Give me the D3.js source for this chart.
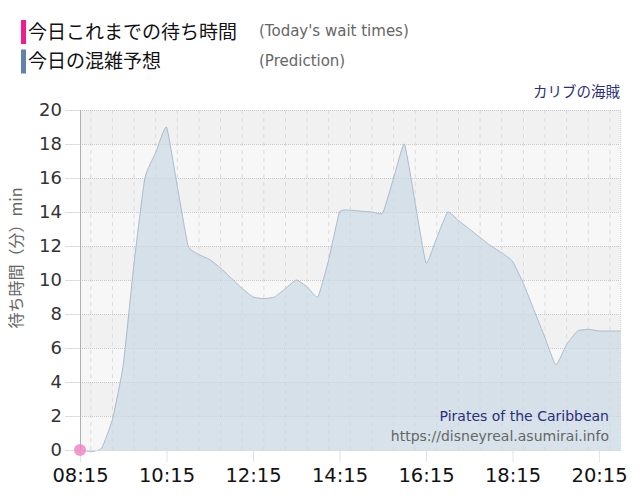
<!DOCTYPE html>
<html><head><meta charset="utf-8">
<script src="https://cdn.jsdelivr.net/npm/d3@7/dist/d3.min.js"></script>
<style>
html,body{margin:0;padding:0;background:#fff;}
svg{display:block;}
</style>
</head><body>
<svg id="c" width="640" height="500"></svg>
<script>
const times = ["08:15","08:30","08:45","09:00","09:15","09:30","09:45","10:00","10:15","10:30","10:45",
"11:00","11:15","11:30","11:45","12:00","12:15","12:30","12:45","13:00","13:15","13:30","13:45",
"14:00","14:15","14:30","14:45","15:00","15:15","15:30","15:45","16:00","16:15","16:30","16:45",
"17:00","17:15","17:30","17:45","18:00","18:15","18:30","18:45","19:00","19:15","19:30","19:45",
"20:00","20:15","20:30","20:45"];
const prediction = [0,-0.1,0.1,1.8,5,11,16,17.5,19,15.5,12,
11.5,11.2,10.7,10.1,9.5,9,8.9,9,9.5,10,9.6,9,
11.2,14,14.1,14.05,14,13.95,16,18,14.5,11,12.5,14,
13.5,13,12.5,12,11.6,11.1,9.8,8.2,6.6,5,6.2,7,
7.1,7,7,7];
const todayTimes = ["08:15"];
const todayValues = [0];
const xTickLabels = ["08:15","10:15","12:15","14:15","16:15","18:15","20:15"];
const yTicks = [0,2,4,6,8,10,12,14,16,18,20];
const legendItems = [
  {jp:"今日これまでの待ち時間", en:"(Today's wait times)", color:"#ee1c8c"},
  {jp:"今日の混雑予想", en:"(Prediction)", color:"#6282ad"}
];
const attractionJp = "カリブの海賊";
const attractionEn = "Pirates of the Caribbean";
const siteUrl = "https://disneyreal.asumirai.info";
const yTitle = "待ち時間（分）min";

const parse = d3.timeParse("%H:%M");
const svg = d3.select("#c");
const L = 80, R = 620.7, T = 110, B = 450;
const x = d3.scaleTime().domain([parse("08:15"), parse("20:45")]).range([L, R]);
const y = d3.scaleLinear().domain([0,20]).range([B, T]);

// background bands
const bands = d3.range(0,20,2);
svg.append("g").selectAll("rect").data(bands).join("rect")
  .attr("x", L).attr("width", R-L)
  .attr("y", d=>y(d+2)).attr("height", d=>y(d)-y(d+2))
  .attr("fill", d=> (d/2)%2===0 ? "#f7f7f7" : "#f1f1f1");

// vertical dashed grid every 30 min
const vGrid = d3.timeMinute.every(30).range(parse("08:15"), parse("20:46"));
svg.append("g").selectAll("line").data(vGrid).join("line")
  .attr("x1", d=>x(d)).attr("x2", d=>x(d)).attr("y1", T).attr("y2", B)
  .attr("stroke", "#dadada").attr("stroke-dasharray","4,4").attr("stroke-width",1);
// right border
svg.append("line").attr("x1",R).attr("x2",R).attr("y1",T).attr("y2",B)
  .attr("stroke","#cfcfcf").attr("stroke-dasharray","1,1");

// horizontal dotted grid
svg.append("g").selectAll("line").data(yTicks).join("line")
  .attr("x1", L).attr("x2", R).attr("y1", d=>y(d)+0.5).attr("y2", d=>y(d)+0.5)
  .attr("stroke", "#c8c8c8").attr("stroke-dasharray","1,1");

// prediction area
const pdata = times.map((t,i)=>({t:parse(t), v:prediction[i]}));
const curve = d3.curveCardinal.tension(0.6);
const area = d3.area().x(d=>x(d.t)).y0(y(0)).y1(d=>y(d.v)).curve(curve);
const line = d3.line().x(d=>x(d.t)).y(d=>y(d.v)).curve(curve);
svg.append("path").datum(pdata).attr("d", area).attr("fill", "#c9d8e5").attr("fill-opacity",0.7);
svg.append("path").datum(pdata).attr("d", line).attr("fill","none").attr("stroke","#aabccb").attr("stroke-width",1);

// axes lines
svg.append("line").attr("x1",L+0.5).attr("x2",L+0.5).attr("y1",T).attr("y2",B)
  .attr("stroke","#a9b0b8").attr("stroke-width",1);
svg.append("line").attr("x1",L).attr("x2",R).attr("y1",B+0.5).attr("y2",B+0.5)
  .attr("stroke","#dddddd").attr("stroke-width",1);

// y axis
const yAxis = d3.axisLeft(y).tickValues(yTicks).tickSize(15).tickPadding(3);
const gy = svg.append("g").attr("transform",`translate(${L},0)`).call(yAxis);
gy.select(".domain").remove();
gy.selectAll(".tick line").attr("stroke","#dddddd");
gy.selectAll(".tick text").attr("font-family","'DejaVu Sans', Verdana, sans-serif")
  .attr("font-size",18).attr("fill","#333");

// x axis
const xAxis = d3.axisBottom(x).tickValues(xTickLabels.map(parse)).tickFormat(d3.timeFormat("%H:%M")).tickSize(12).tickPadding(6);
const gx = svg.append("g").attr("transform",`translate(0,${B})`).call(xAxis);
gx.select(".domain").remove();
gx.selectAll(".tick line").attr("stroke","#e2e2e2");
gx.selectAll(".tick text").attr("font-family","'DejaVu Sans', Verdana, sans-serif")
  .attr("font-size",19.5).attr("fill","#111");

// today points
svg.append("g").selectAll("circle").data(todayTimes.map((t,i)=>({t:parse(t), v:todayValues[i]}))).join("circle")
  .attr("cx", d=>x(d.t)).attr("cy", d=>y(d.v)).attr("r",6)
  .attr("fill","#f080c4").attr("fill-opacity",0.8);

// y title
svg.append("text").attr("transform","translate(22,258) rotate(-90)")
  .attr("text-anchor","middle").attr("font-family","'Noto Sans CJK JP', sans-serif")
  .attr("font-size",16).attr("fill","#666").text(yTitle);

// legend
const lg = svg.append("g");
legendItems.forEach((it,i)=>{
  const cy = 32 + i*29.5;
  lg.append("rect").attr("x",21).attr("y",cy-12).attr("width",5).attr("height",24).attr("fill",it.color);
  lg.append("text").attr("x",28).attr("y",cy).attr("dy","0.36em")
    .attr("font-family","'Noto Sans CJK JP', sans-serif").attr("font-size",19).attr("fill","#111").text(it.jp);
  lg.append("text").attr("x",259).attr("y",cy-1).attr("dy","0.36em")
    .attr("font-family","'DejaVu Sans', Verdana, sans-serif").attr("font-size",15).attr("fill","#666").text(it.en);
});

// attraction name top right
svg.append("text").attr("x",620).attr("y",97).attr("text-anchor","end")
  .attr("font-family","'Noto Sans CJK JP', sans-serif").attr("font-size",14.5).attr("fill","#2b2f78").text(attractionJp);

// watermark
svg.append("text").attr("x",609).attr("y",421).attr("text-anchor","end")
  .attr("font-family","'DejaVu Sans', Verdana, sans-serif").attr("font-size",14).attr("fill","#2b2f78").text(attractionEn);
svg.append("text").attr("x",609).attr("y",441).attr("text-anchor","end")
  .attr("font-family","'DejaVu Sans', Verdana, sans-serif").attr("font-size",14).attr("fill","#666").text(siteUrl);
</script>
</body></html>
